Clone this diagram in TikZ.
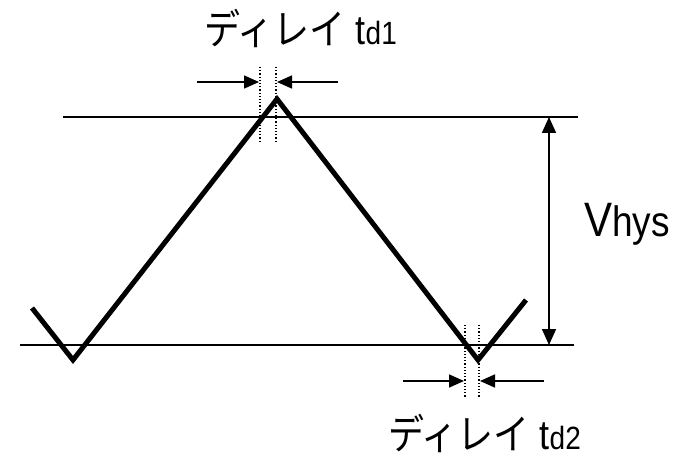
\documentclass[tikz,border=0pt]{standalone}
\usepackage{fontspec}
\setmainfont{Liberation Sans}
\newfontfamily\jpfont{Noto Sans CJK JP}
\usetikzlibrary{arrows.meta}
\tikzset{
  wave/.style={line width=5pt, line join=miter, line cap=butt},
  level/.style={line width=1.3pt},
  dimarrow/.style={line width=1.6pt, -{Triangle[length=15pt,width=13pt]}},
  vdim/.style={line width=1.6pt, {Triangle[length=16pt,width=14pt]}-{Triangle[length=16pt,width=14pt]}},
  guide/.style={line width=1.2pt, dotted},
  lbl/.style={inner sep=0pt, font=\fontsize{36}{40}\selectfont}
}
\newcommand{\tallt}[1]{\scalebox{1}[1.15]{#1}}
\begin{document}
\begin{tikzpicture}[x=1pt,y=-1pt]
\useasboundingbox (0,0) rectangle (683,457);
% level lines
\coordinate (t1) at (63,117); \coordinate (t2) at (578,117);
\coordinate (b1) at (20,345); \coordinate (b2) at (574,345);
\draw[level] (t1) -- (t2);
\draw[level] (b1) -- (b2);
% waveform
\coordinate (w0) at (32,308);
\coordinate (w1) at (73,360);
\coordinate (w2) at (277,99);
\coordinate (w3) at (478,360);
\coordinate (w4) at (526,300);
\draw[wave] (w0) -- (w1) -- (w2) -- (w3) -- (w4);
% top delay guides
\coordinate (g1a) at (260,67); \coordinate (g1b) at (260,142);
\coordinate (g2a) at (276,67); \coordinate (g2b) at (276,142);
\draw[guide] (g1a) -- (g1b);
\draw[guide] (g2a) -- (g2b);
\coordinate (a1s) at (197,82); \coordinate (a1e) at (259,82);
\coordinate (a2s) at (338,82); \coordinate (a2e) at (277,82);
\draw[dimarrow] (a1s) -- (a1e);
\draw[dimarrow] (a2s) -- (a2e);
% bottom delay guides
\coordinate (g3a) at (465,325); \coordinate (g3b) at (465,398);
\coordinate (g4a) at (479,325); \coordinate (g4b) at (479,398);
\draw[guide] (g3a) -- (g3b);
\draw[guide] (g4a) -- (g4b);
\coordinate (a3s) at (403,381); \coordinate (a3e) at (464,381);
\coordinate (a4s) at (544,381); \coordinate (a4e) at (480,381);
\draw[dimarrow] (a3s) -- (a3e);
\draw[dimarrow] (a4s) -- (a4e);
% Vhys arrow
\coordinate (v1) at (549,117); \coordinate (v2) at (549,345);
\draw[vdim] (v1) -- (v2);
% labels
\node[lbl, anchor=base west] (td1) at (204,45) {\tallt{{\jpfont ディレイ} t{\fontsize{28}{30}\selectfont d1}}};
\node[lbl, anchor=base west] (td2) at (388,449) {\tallt{{\jpfont ディレイ} t{\fontsize{28}{30}\selectfont d2}}};
\node[lbl, anchor=base west] (vh) at (584,237) {\tallt{\fontsize{42}{44}\selectfont V\fontsize{37}{40}\selectfont hys}};
\end{tikzpicture}
\end{document}
